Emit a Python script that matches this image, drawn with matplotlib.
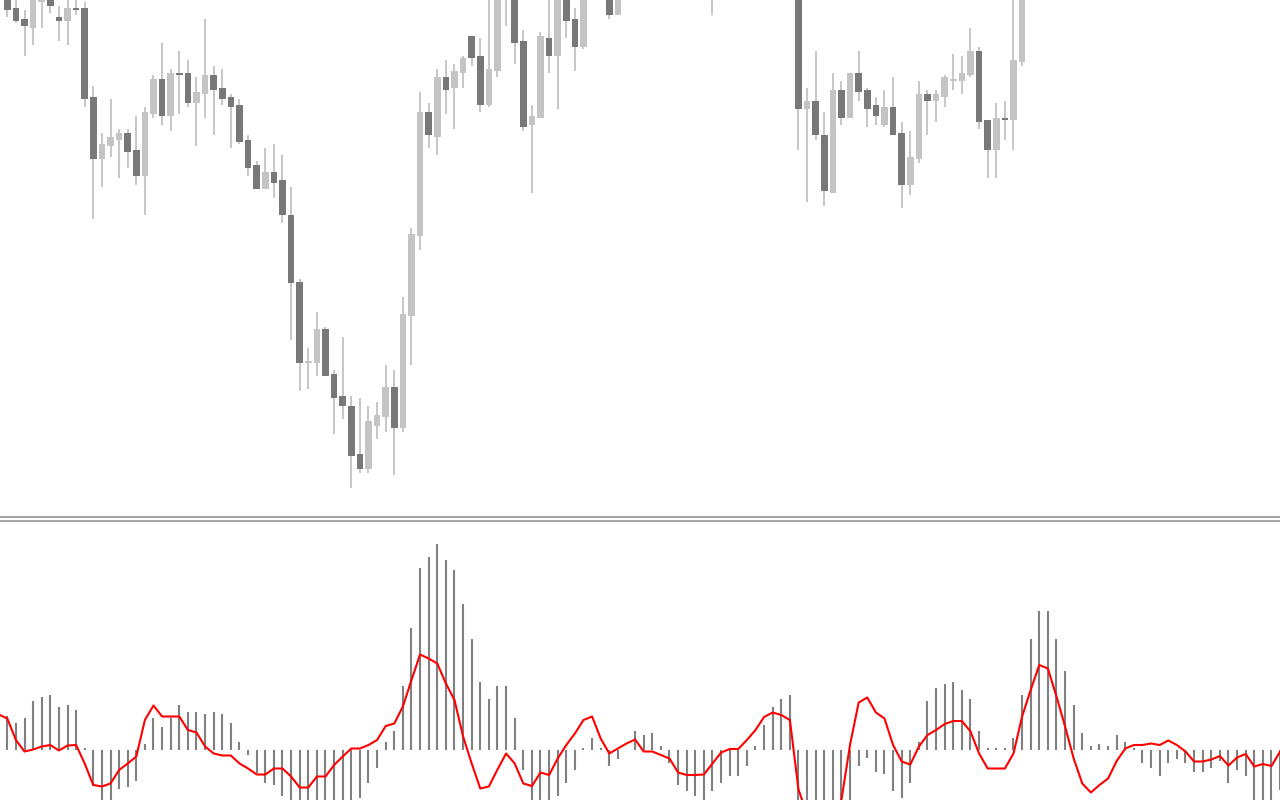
import numpy as np
import matplotlib
matplotlib.use("Agg")
import matplotlib.pyplot as plt
from matplotlib.lines import Line2D

# price bars (one per candle, left to right)
opens = [528, 526, 512, 501, 492, 518, 524, 503, 499, 512,
         512, 423, 361, 374, 380, 387, 370, 344, 406, 441,
         404, 447, 447, 417, 426, 445, 432, 423, 415, 380,
         355, 331, 348, 340, 305, 238, 157, 157, 191, 146,
         124, 114, 66, 51, 94, 103, 133, 92, 204, 284,
         408, 383, 443, 432, 447, 484, 464, 415, 449, 525,
         530, 479, 395, 402, 482, 464, 526, 501, 473, 528,
         552, 526, 505, 526, 555, 575, 565, 580, 595, 580,
         565, 550, 540, 535, 540, 555, 570, 585, 595, 615,
         635, 645, 640, 620, 411, 419, 385, 327, 430, 402,
         447, 430, 415, 395, 413, 387, 335, 361, 426, 419,
         423, 439, 439, 445, 469, 400, 370, 402, 400, 458,
         540, 570, 595, 610, 600, 590, 575, 560, 570, 585,
         580, 595, 600, 598, 585, 575, 585, 592, 585, 572,
         565, 570, 575, 568, 555, 565, 558, 545, 552, 542]
highs = [560, 532, 524, 510, 528, 526, 528, 514, 522, 522,
         518, 434, 387, 421, 391, 391, 404, 413, 445, 477,
         451, 469, 460, 443, 501, 454, 451, 426, 421, 385,
         359, 372, 376, 365, 333, 241, 172, 208, 193, 150,
         183, 124, 122, 114, 118, 155, 150, 223, 292, 428,
         417, 451, 460, 456, 464, 484, 482, 525, 535, 555,
         535, 490, 415, 488, 525, 532, 530, 512, 535, 560,
         570, 530, 530, 560, 580, 590, 585, 600, 605, 590,
         575, 560, 550, 548, 560, 575, 590, 600, 620, 640,
         650, 660, 650, 630, 432, 469, 408, 447, 439, 447,
         469, 432, 423, 430, 443, 398, 389, 439, 430, 430,
         445, 466, 464, 492, 473, 400, 417, 419, 525, 550,
         575, 600, 620, 625, 615, 600, 585, 575, 590, 595,
         600, 605, 610, 605, 595, 590, 600, 600, 590, 580,
         578, 582, 585, 575, 570, 575, 565, 560, 560, 555]
lows = [467, 503, 497, 464, 475, 492, 507, 479, 475, 505,
        413, 301, 333, 363, 342, 352, 335, 305, 402, 395,
        389, 406, 413, 374, 402, 385, 415, 372, 376, 344,
        331, 331, 322, 297, 180, 129, 131, 144, 144, 86,
        101, 32, 47, 47, 81, 88, 45, 88, 155, 270,
        372, 365, 406, 391, 432, 454, 408, 413, 443, 494,
        456, 389, 327, 402, 447, 411, 482, 449, 471, 522,
        525, 501, 505, 522, 545, 560, 555, 570, 575, 560,
        545, 535, 525, 505, 530, 545, 560, 575, 585, 605,
        620, 630, 615, 370, 318, 380, 314, 327, 395, 402,
        419, 393, 395, 393, 385, 312, 325, 357, 385, 398,
        413, 430, 426, 443, 391, 342, 342, 380, 370, 454,
        530, 560, 585, 590, 580, 570, 555, 550, 560, 570,
        575, 585, 590, 580, 570, 565, 578, 580, 568, 560,
        555, 560, 562, 550, 548, 552, 540, 535, 538, 532]
closes = [550, 510, 499, 494, 524, 522, 514, 499, 512, 510,
          421, 361, 376, 383, 387, 368, 344, 408, 441, 404,
          447, 445, 417, 428, 445, 430, 421, 413, 378, 352,
          331, 348, 337, 305, 237, 157, 159, 191, 144, 122,
          114, 64, 51, 99, 105, 133, 92, 206, 286, 408,
          385, 443, 430, 449, 462, 462, 415, 451, 530, 550,
          477, 393, 404, 484, 464, 528, 499, 473, 528, 552,
          540, 505, 526, 555, 575, 565, 580, 595, 580, 565,
          550, 540, 535, 540, 555, 570, 585, 595, 615, 635,
          645, 640, 625, 411, 419, 385, 329, 430, 402, 447,
          428, 411, 404, 413, 385, 335, 363, 426, 419, 426,
          443, 441, 447, 469, 398, 370, 402, 400, 460, 540,
          570, 595, 610, 600, 590, 575, 560, 570, 585, 580,
          595, 600, 598, 585, 575, 585, 592, 585, 572, 565,
          570, 575, 568, 555, 565, 558, 545, 552, 542, 550]

# oscillator histogram and its signal line
hist = [20, 33.5, 27, 31.5, 48.5, 52.5, 54.5, 42.5, 44.5, 39.5,
        2, -36.5, -60, -55, -39, -37, -31.5, 6, 31.5, 22.5,
        31.5, 44.5, 37.5, 37.5, 35.5, 37.5, 35.5, 26.5, 7.5, -5,
        -23.5, -33, -35.5, -46, -55, -60, -58, -55, -55, -55,
        -52, -52, -48, -33, -18, 8, 19, 63.5, 122, 181.5,
        192.5, 205.5, 190, 179.5, 145.5, 110.5, 67.5, 50.5, 63.5, 63.5,
        31.5, -20.5, -60, -58, -60, -46, -33.5, -20.5, 1.5, 11.5,
        1.5, -16.5, -9.5, 0, 19, 14.5, 17, 3.5, -13.5, -35.5,
        -41, -46, -52, -41, -33.5, -26.5, -26.5, -16.5, 3.5, 24.5,
        42.5, 50.5, 54.5, -70, -80, -85, -80, -75, -65, -60,
        -16, -8.5, -22, -24, -41, -48, -33, 7.5, 48.5, 61.5,
        65.5, 67.5, 59.5, 50.5, 19, 1.5, 1.5, 1.5, 11.5, 54.5,
        110.5, 139, 139, 110.5, 78.5, 44.5, 17, 3.5, 5.5, 3.5,
        14.5, 7.5, 1.5, -13, -18, -26.5, -13, -9, -13, -22,
        -22, -18, -11, -33, -20, -26, -55, -55, -55, -40]
signal = [35, 31, 9.5, -2, 0, 3, 4.5, -1, 4, 4.5,
          -14, -35.5, -37, -34, -20.5, -14, -7, 29.5, 44, 33,
          33, 33, 19.5, 17, 3, -4, -6, -6, -14, -19,
          -25, -25, -19, -19, -27, -38, -38, -27, -27, -15.5,
          -7, 1, 1, 4.5, 9.5, 23.5, 26, 43, 69.5, 95,
          91, 86, 66, 49.5, 13, -14, -39, -37, -20, -4,
          -14, -34, -36.5, -23, -25.5, -9, 4.5, 16, 29.5, 33,
          11, -4, 1, 6, 10, -2, -2, -5.5, -9, -23,
          -25.5, -25.5, -25, -14, -3, 0.5, 0.5, 9.5, 19.5, 32.5,
          37, 34.5, 29.5, -40, -65, -75, -75, -70, -50, 5,
          47, 52, 37, 31, 4.5, -12, -15, 3, 14.5, 19.5,
          25.5, 28.5, 28.5, 18, -4, -19, -19, -19, -4, 33,
          59.5, 84.5, 81, 53, 23, -9, -34, -43, -35.5, -29,
          -11.5, 1, 4.5, 4.5, 6, 4.5, 9, 4.5, -2, -12,
          -12, -10, -6.5, -16, -8, -4.5, -17, -14.5, -16.5, -2]

o = np.array(opens, float)
h = np.array(highs, float)
l = np.array(lows, float)
c = np.array(closes, float)
x = np.arange(len(o))

DARK = '#787878'
LIGHT = '#c4c4c4'
WICK = '#c8c8c8'

fig = plt.figure(figsize=(12.8, 8), dpi=100)
fig.patch.set_facecolor('white')

# upper pane: candles
ax1 = fig.add_axes([0, 1 - 516 / 800, 1, 516 / 800])
ax1.vlines(x, l, h, color=WICK, linewidth=1.45, zorder=1)
up = c >= o
body_low = np.minimum(o, c)
body_h = np.maximum(np.abs(c - o), 1.6)
ax1.bar(x[up], body_h[up], bottom=body_low[up], width=0.76,
        color=LIGHT, linewidth=0, zorder=2)
ax1.bar(x[~up], body_h[~up], bottom=body_low[~up], width=0.76,
        color=DARK, linewidth=0, zorder=2)
ax1.set_xlim(0.151, 148.99)
ax1.set_ylim(4, 520)
ax1.axis('off')

# lower pane: histogram + red line
ax2 = fig.add_axes([0, 0, 1, 278 / 800])
ax2.vlines(x, 0, hist, color='#808080', linewidth=1.5, zorder=1)
ax2.plot(x, signal, color='#ff0000', linewidth=1.5, zorder=2)
ax2.set_xlim(0.151, 148.99)
ax2.set_ylim(-50.5, 227.5)
ax2.axis('off')

# pane separator (double line)
for yy in (517, 521):
    fig.add_artist(Line2D([0, 1], [1 - yy / 800, 1 - yy / 800],
                          color='#939393', linewidth=1.2,
                          transform=fig.transFigure))

fig.savefig('out.png', dpi=100, facecolor='white')
